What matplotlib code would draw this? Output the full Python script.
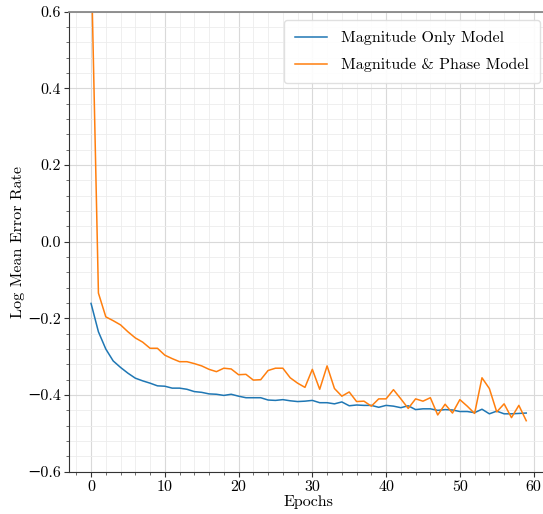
import matplotlib
matplotlib.use("Agg")
import matplotlib.pyplot as plt
from matplotlib.ticker import MultipleLocator, AutoMinorLocator

plt.rcParams.update(
    {
        "font.family": ["cmr10", "DejaVu Serif"],
        "mathtext.fontset": "cm",
        "axes.formatter.use_mathtext": False,
        "axes.unicode_minus": True,
        "font.size": 11.5,
    }
)

epochs = list(range(60))

mag_only = [
    -0.161, -0.235, -0.280, -0.311, -0.328, -0.343, -0.356, -0.363, -0.369, -0.376,
    -0.377, -0.382, -0.382, -0.385, -0.391, -0.393, -0.397, -0.398, -0.401, -0.398,
    -0.403, -0.407, -0.407, -0.407, -0.413, -0.414, -0.412, -0.415, -0.417, -0.416,
    -0.414, -0.420, -0.420, -0.423, -0.418, -0.428, -0.426, -0.427, -0.427, -0.432,
    -0.427, -0.429, -0.433, -0.428, -0.438, -0.436, -0.436, -0.440, -0.438, -0.439,
    -0.443, -0.443, -0.446, -0.437, -0.449, -0.442, -0.449, -0.449, -0.448, -0.447,
]

mag_phase = [
    0.757, -0.134, -0.196, -0.206, -0.217, -0.235, -0.251, -0.262, -0.278, -0.278,
    -0.296, -0.305, -0.313, -0.313, -0.318, -0.324, -0.333, -0.339, -0.330, -0.332,
    -0.347, -0.346, -0.361, -0.360, -0.336, -0.330, -0.330, -0.355, -0.369, -0.380,
    -0.333, -0.385, -0.324, -0.383, -0.403, -0.392, -0.417, -0.416, -0.429, -0.410,
    -0.410, -0.386, -0.410, -0.435, -0.410, -0.416, -0.407, -0.452, -0.424, -0.447,
    -0.412, -0.429, -0.448, -0.355, -0.383, -0.444, -0.423, -0.459, -0.427, -0.467,
]

fig = plt.figure(figsize=(5.43, 5.14), dpi=100)
ax = fig.add_axes([0.1276, 0.0823, 0.8816, 0.8949])

ax.plot(epochs, mag_only, color="#1f77b4", lw=1.1, label="Magnitude Only Model")
ax.plot(epochs, mag_phase, color="#ff7f0e", lw=1.1, label="Magnitude & Phase Model")

ax.set_ylim(-0.6, 0.6)
ax.set_xlim(-2.95, 61.95)
ax.xaxis.set_major_locator(MultipleLocator(10))
ax.xaxis.set_minor_locator(AutoMinorLocator(5))
ax.yaxis.set_major_locator(MultipleLocator(0.2))
ax.yaxis.set_minor_locator(AutoMinorLocator(5))

ax.grid(which="major", color="#d9d9d9", lw=0.8)
ax.grid(which="minor", color="#ececec", lw=0.6)
ax.set_axisbelow(True)

ax.tick_params(which="major", direction="out", length=3.5, width=0.8, color="#333333",
               labelsize=11.5, pad=2.5)
ax.tick_params(which="minor", direction="out", length=2, width=0.6, color="#555555")

for side in ("left", "bottom"):
    ax.spines[side].set_color("#333333")
    ax.spines[side].set_linewidth(0.8)
ax.spines["top"].set_color("#888888")
ax.spines["top"].set_linewidth(1.3)
ax.spines["right"].set_visible(False)

ax.set_xlabel("Epochs", fontsize=11.5, labelpad=1)
ax.set_ylabel("Log Mean Error Rate", fontsize=11.5)
ax.yaxis.set_label_coords(-0.093, 0.5)

ax.legend(loc="upper right", fontsize=11.5, frameon=True, fancybox=True, framealpha=0.9,
          edgecolor="#dddddd", borderpad=0.7, labelspacing=0.8, handletextpad=0.9)

fig.savefig("out.png", dpi=100)
